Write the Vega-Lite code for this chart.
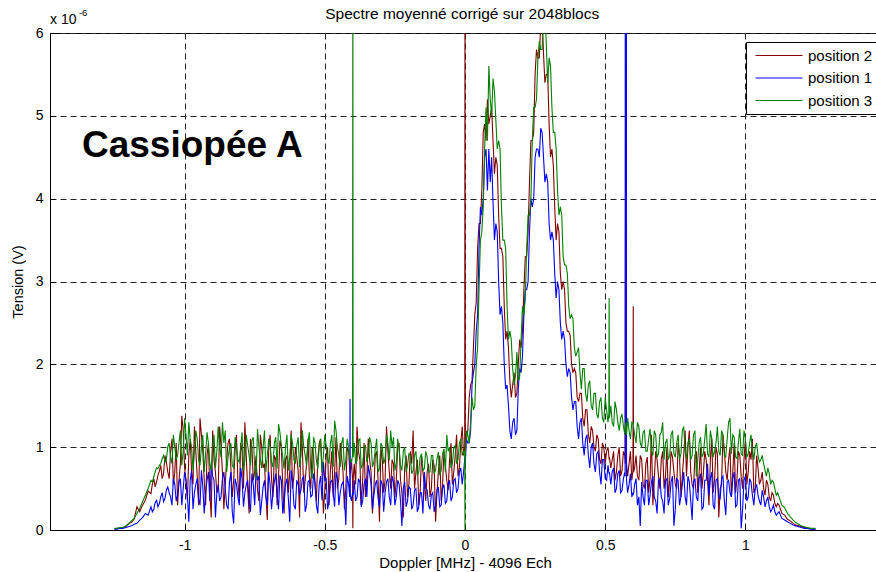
{
  "$schema": "https://vega.github.io/schema/vega-lite/v6.json",
  "width": 830,
  "height": 497,
  "autosize": {"type": "none"},
  "padding": {"left": 50, "top": 33, "right": 0, "bottom": 42},
  "background": "white",
  "config": {
    "font": "Liberation Sans",
    "view": {"stroke": "#000", "strokeWidth": 1},
    "axis": {
      "labelFont": "Liberation Sans",
      "labelFontSize": 14,
      "labelColor": "#000",
      "titleFont": "Liberation Sans",
      "titleFontWeight": "normal",
      "titleColor": "#000",
      "domainColor": "#000",
      "tickColor": "#000",
      "grid": true,
      "gridColor": "#222",
      "gridDash": [6, 4],
      "gridWidth": 1
    }
  },
  "layer": [
    {
      "data": {
        "values": [
          {"x": -1.25, "p3": 0.02, "p2": 0.01, "p1": 0.01},
          {"x": -1.24, "p3": 0.02, "p2": 0.02, "p1": 0.01},
          {"x": -1.23, "p3": 0.03, "p2": 0.02, "p1": 0.02},
          {"x": -1.22, "p3": 0.03, "p2": 0.03, "p1": 0.02},
          {"x": -1.21, "p3": 0.05, "p2": 0.04, "p1": 0.03},
          {"x": -1.2, "p3": 0.07, "p2": 0.08, "p1": 0.04},
          {"x": -1.19, "p3": 0.11, "p2": 0.09, "p1": 0.05},
          {"x": -1.18, "p3": 0.14, "p2": 0.13, "p1": 0.07},
          {"x": -1.17, "p3": 0.2, "p2": 0.28, "p1": 0.08},
          {"x": -1.16, "p3": 0.26, "p2": 0.22, "p1": 0.12},
          {"x": -1.15, "p3": 0.34, "p2": 0.3, "p1": 0.15},
          {"x": -1.14, "p3": 0.42, "p2": 0.36, "p1": 0.2},
          {"x": -1.13, "p3": 0.5, "p2": 0.47, "p1": 0.18},
          {"x": -1.12, "p3": 0.6, "p2": 0.44, "p1": 0.28},
          {"x": -1.115, "p3": 0.58, "p2": 0.55, "p1": 0.22},
          {"x": -1.11, "p3": 0.64, "p2": 0.62, "p1": 0.25},
          {"x": -1.105, "p3": 0.7, "p2": 0.52, "p1": 0.33},
          {"x": -1.1, "p3": 0.75, "p2": 0.58, "p1": 0.36},
          {"x": -1.095, "p3": 0.74, "p2": 0.66, "p1": 0.28},
          {"x": -1.09, "p3": 0.78, "p2": 0.71, "p1": 0.32},
          {"x": -1.085, "p3": 0.8, "p2": 0.78, "p1": 0.4},
          {"x": -1.08, "p3": 0.86, "p2": 0.62, "p1": 0.45},
          {"x": -1.075, "p3": 0.9, "p2": 0.68, "p1": 0.34},
          {"x": -1.07, "p3": 0.82, "p2": 0.9, "p1": 0.38},
          {"x": -1.065, "p3": 0.85, "p2": 0.82, "p1": 0.48},
          {"x": -1.06, "p3": 1.0, "p2": 0.7, "p1": 0.52},
          {"x": -1.055, "p3": 1.05, "p2": 0.62, "p1": 0.45},
          {"x": -1.05, "p3": 0.88, "p2": 0.95, "p1": 0.4},
          {"x": -1.045, "p3": 0.8, "p2": 1.1, "p1": 0.3},
          {"x": -1.04, "p3": 1.15, "p2": 0.55, "p1": 0.62},
          {"x": -1.035, "p3": 1.0, "p2": 0.7, "p1": 0.55},
          {"x": -1.03, "p3": 0.85, "p2": 1.05, "p1": 0.35},
          {"x": -1.025, "p3": 0.9, "p2": 0.3, "p1": 0.42},
          {"x": -1.02, "p3": 1.05, "p2": 0.6, "p1": 0.58},
          {"x": -1.015, "p3": 1.2, "p2": 0.8, "p1": 0.62},
          {"x": -1.01, "p3": 0.78, "p2": 1.38, "p1": 0.3},
          {"x": -1.005, "p3": 0.95, "p2": 1.2, "p1": 0.5},
          {"x": -1.0, "p3": 1.35, "p2": 0.75, "p1": 0.7},
          {"x": -0.995, "p3": 1.15, "p2": 0.6, "p1": 0.6},
          {"x": -0.99, "p3": 0.9, "p2": 0.35, "p1": 0.42},
          {"x": -0.985, "p3": 1.3, "p2": 0.9, "p1": 0.1},
          {"x": -0.98, "p3": 1.1, "p2": 1.1, "p1": 0.6},
          {"x": -0.975, "p3": 1.0, "p2": 0.7, "p1": 0.72},
          {"x": -0.97, "p3": 0.72, "p2": 0.55, "p1": 0.25},
          {"x": -0.965, "p3": 0.95, "p2": 1.25, "p1": 0.45},
          {"x": -0.96, "p3": 1.2, "p2": 0.95, "p1": 0.55},
          {"x": -0.955, "p3": 1.1, "p2": 0.65, "p1": 0.62},
          {"x": -0.95, "p3": 0.85, "p2": 0.3, "p1": 0.38},
          {"x": -0.945, "p3": 0.78, "p2": 1.35, "p1": 0.3},
          {"x": -0.94, "p3": 1.0, "p2": 1.15, "p1": 0.72},
          {"x": -0.935, "p3": 1.15, "p2": 0.95, "p1": 0.52},
          {"x": -0.93, "p3": 0.7, "p2": 0.6, "p1": 0.2},
          {"x": -0.925, "p3": 0.92, "p2": 0.3, "p1": 0.45},
          {"x": -0.92, "p3": 1.18, "p2": 0.9, "p1": 0.6},
          {"x": -0.915, "p3": 1.05, "p2": 1.05, "p1": 0.7},
          {"x": -0.91, "p3": 0.8, "p2": 0.45, "p1": 0.35},
          {"x": -0.905, "p3": 0.72, "p2": 0.15, "p1": 0.8},
          {"x": -0.9, "p3": 1.02, "p2": 1.2, "p1": 0.65},
          {"x": -0.895, "p3": 1.15, "p2": 0.85, "p1": 0.6},
          {"x": -0.89, "p3": 0.75, "p2": 0.7, "p1": 0.15},
          {"x": -0.885, "p3": 0.95, "p2": 0.45, "p1": 0.45},
          {"x": -0.88, "p3": 1.25, "p2": 0.5, "p1": 0.55},
          {"x": -0.875, "p3": 1.0, "p2": 1.25, "p1": 0.35},
          {"x": -0.87, "p3": 0.88, "p2": 1.0, "p1": 0.4},
          {"x": -0.865, "p3": 1.3, "p2": 0.7, "p1": 0.62},
          {"x": -0.86, "p3": 1.05, "p2": 0.25, "p1": 0.7},
          {"x": -0.855, "p3": 1.2, "p2": 0.55, "p1": 0.5},
          {"x": -0.85, "p3": 0.7, "p2": 0.85, "p1": 0.3},
          {"x": -0.845, "p3": 0.88, "p2": 1.05, "p1": 0.25},
          {"x": -0.84, "p3": 0.98, "p2": 1.1, "p1": 0.58},
          {"x": -0.835, "p3": 1.05, "p2": 0.75, "p1": 0.7},
          {"x": -0.83, "p3": 0.78, "p2": 0.4, "p1": 0.22},
          {"x": -0.825, "p3": 0.75, "p2": 0.6, "p1": 0.08},
          {"x": -0.82, "p3": 1.12, "p2": 0.95, "p1": 0.62},
          {"x": -0.815, "p3": 1.0, "p2": 1.15, "p1": 0.55},
          {"x": -0.81, "p3": 0.85, "p2": 0.6, "p1": 0.4},
          {"x": -0.805, "p3": 0.82, "p2": 0.35, "p1": 0.3},
          {"x": -0.8, "p3": 1.0, "p2": 1.05, "p1": 0.75},
          {"x": -0.795, "p3": 1.18, "p2": 0.95, "p1": 0.62},
          {"x": -0.79, "p3": 0.72, "p2": 0.5, "p1": 0.28},
          {"x": -0.785, "p3": 0.85, "p2": 1.3, "p1": 0.45},
          {"x": -0.78, "p3": 1.15, "p2": 0.88, "p1": 0.55},
          {"x": -0.775, "p3": 1.02, "p2": 0.5, "p1": 0.6},
          {"x": -0.77, "p3": 0.9, "p2": 0.2, "p1": 0.35},
          {"x": -0.765, "p3": 0.78, "p2": 1.1, "p1": 0.22},
          {"x": -0.76, "p3": 1.08, "p2": 1.0, "p1": 0.68},
          {"x": -0.755, "p3": 1.12, "p2": 0.6, "p1": 0.55},
          {"x": -0.75, "p3": 0.76, "p2": 0.7, "p1": 0.3},
          {"x": -0.745, "p3": 0.62, "p2": 0.9, "p1": 0.75},
          {"x": -0.74, "p3": 1.22, "p2": 0.48, "p1": 0.6},
          {"x": -0.735, "p3": 1.0, "p2": 0.35, "p1": 0.65},
          {"x": -0.73, "p3": 0.86, "p2": 1.15, "p1": 0.18},
          {"x": -0.725, "p3": 0.75, "p2": 1.0, "p1": 0.35},
          {"x": -0.72, "p3": 1.0, "p2": 0.75, "p1": 0.52},
          {"x": -0.715, "p3": 1.2, "p2": 0.8, "p1": 0.6},
          {"x": -0.71, "p3": 0.7, "p2": 0.42, "p1": 0.4},
          {"x": -0.705, "p3": 0.9, "p2": 0.12, "p1": 0.3},
          {"x": -0.7, "p3": 1.1, "p2": 1.0, "p1": 0.7},
          {"x": -0.695, "p3": 1.0, "p2": 1.15, "p1": 0.55},
          {"x": -0.69, "p3": 0.82, "p2": 0.62, "p1": 0.25},
          {"x": -0.685, "p3": 0.76, "p2": 0.4, "p1": 0.45},
          {"x": -0.68, "p3": 1.05, "p2": 0.9, "p1": 0.58},
          {"x": -0.675, "p3": 1.12, "p2": 0.85, "p1": 0.68},
          {"x": -0.67, "p3": 0.74, "p2": 0.3, "p1": 0.42},
          {"x": -0.665, "p3": 1.28, "p2": 0.65, "p1": 0.25},
          {"x": -0.66, "p3": 1.18, "p2": 1.08, "p1": 0.66},
          {"x": -0.655, "p3": 1.02, "p2": 1.0, "p1": 0.6},
          {"x": -0.65, "p3": 0.88, "p2": 0.55, "p1": 0.2},
          {"x": -0.645, "p3": 0.74, "p2": 0.2, "p1": 0.35},
          {"x": -0.64, "p3": 1.0, "p2": 0.85, "p1": 0.55},
          {"x": -0.635, "p3": 1.15, "p2": 0.9, "p1": 0.62},
          {"x": -0.63, "p3": 0.72, "p2": 0.45, "p1": 0.38},
          {"x": -0.625, "p3": 0.88, "p2": 0.7, "p1": 0.1},
          {"x": -0.62, "p3": 1.15, "p2": 1.2, "p1": 0.72},
          {"x": -0.615, "p3": 1.05, "p2": 0.5, "p1": 0.58},
          {"x": -0.61, "p3": 0.85, "p2": 0.65, "p1": 0.3},
          {"x": -0.605, "p3": 0.8, "p2": 1.0, "p1": 0.25},
          {"x": -0.6, "p3": 1.02, "p2": 0.88, "p1": 0.6},
          {"x": -0.595, "p3": 1.12, "p2": 0.72, "p1": 0.55},
          {"x": -0.59, "p3": 0.76, "p2": 0.15, "p1": 0.42},
          {"x": -0.585, "p3": 0.9, "p2": 1.3, "p1": 0.48},
          {"x": -0.58, "p3": 1.2, "p2": 0.98, "p1": 0.62},
          {"x": -0.575, "p3": 1.0, "p2": 0.45, "p1": 0.65},
          {"x": -0.57, "p3": 0.9, "p2": 0.6, "p1": 0.22},
          {"x": -0.565, "p3": 0.78, "p2": 0.8, "p1": 0.3},
          {"x": -0.56, "p3": 1.06, "p2": 1.1, "p1": 0.58},
          {"x": -0.555, "p3": 1.18, "p2": 0.65, "p1": 0.6},
          {"x": -0.55, "p3": 0.74, "p2": 0.5, "p1": 0.4},
          {"x": -0.545, "p3": 0.62, "p2": 1.0, "p1": 0.42},
          {"x": -0.54, "p3": 1.12, "p2": 0.9, "p1": 0.68},
          {"x": -0.535, "p3": 1.05, "p2": 0.55, "p1": 0.58},
          {"x": -0.53, "p3": 0.84, "p2": 0.35, "p1": 0.3},
          {"x": -0.525, "p3": 0.74, "p2": 0.85, "p1": 0.2},
          {"x": -0.52, "p3": 1.0, "p2": 1.05, "p1": 0.55},
          {"x": -0.515, "p3": 1.1, "p2": 1.1, "p1": 0.65},
          {"x": -0.51, "p3": 0.7, "p2": 0.7, "p1": 0.36},
          {"x": -0.505, "p3": 0.9, "p2": 0.2, "p1": 0.82},
          {"x": -0.5, "p3": 1.15, "p2": 0.48, "p1": 0.6},
          {"x": -0.495, "p3": 1.02, "p2": 0.9, "p1": 0.62},
          {"x": -0.49, "p3": 0.86, "p2": 1.0, "p1": 0.25},
          {"x": -0.485, "p3": 0.8, "p2": 0.3, "p1": 0.35},
          {"x": -0.48, "p3": 1.04, "p2": 0.72, "p1": 0.58},
          {"x": -0.475, "p3": 1.15, "p2": 0.95, "p1": 0.6},
          {"x": -0.47, "p3": 0.76, "p2": 0.4, "p1": 0.45},
          {"x": -0.465, "p3": 1.32, "p2": 0.7, "p1": 0.28},
          {"x": -0.46, "p3": 1.2, "p2": 1.12, "p1": 0.7},
          {"x": -0.455, "p3": 1.0, "p2": 0.5, "p1": 0.62},
          {"x": -0.45, "p3": 0.9, "p2": 0.62, "p1": 0.3},
          {"x": -0.445, "p3": 0.76, "p2": 1.05, "p1": 0.45},
          {"x": -0.44, "p3": 1.05, "p2": 0.88, "p1": 0.55},
          {"x": -0.435, "p3": 1.12, "p2": 0.7, "p1": 0.58},
          {"x": -0.43, "p3": 0.72, "p2": 0.25, "p1": 0.4},
          {"x": -0.425, "p3": 0.85, "p2": 0.5, "p1": 0.06},
          {"x": -0.42, "p3": 1.1, "p2": 1.0, "p1": 0.65},
          {"x": -0.415, "p3": 1.0, "p2": 0.95, "p1": 0.55},
          {"x": -0.411, "p3": 0.88, "p2": 0.72, "p1": 0.4},
          {"x": -0.41, "p3": 0.85, "p2": 0.7, "p1": 1.58},
          {"x": -0.409, "p3": 0.84, "p2": 0.68, "p1": 0.42},
          {"x": -0.405, "p3": 0.82, "p2": 0.85, "p1": 0.35},
          {"x": -0.401, "p3": 0.9, "p2": 0.6, "p1": 0.45},
          {"x": -0.4, "p3": 7, "p2": 0.02, "p1": 0.44},
          {"x": -0.399, "p3": 0.88, "p2": 0.6, "p1": 0.42},
          {"x": -0.395, "p3": 1.05, "p2": 0.8, "p1": 0.6},
          {"x": -0.39, "p3": 0.8, "p2": 0.55, "p1": 0.35},
          {"x": -0.385, "p3": 0.84, "p2": 1.25, "p1": 0.4},
          {"x": -0.38, "p3": 1.08, "p2": 0.95, "p1": 0.62},
          {"x": -0.375, "p3": 1.1, "p2": 0.85, "p1": 0.58},
          {"x": -0.37, "p3": 0.75, "p2": 0.3, "p1": 0.28},
          {"x": -0.365, "p3": 0.78, "p2": 0.6, "p1": 0.35},
          {"x": -0.36, "p3": 1.0, "p2": 1.05, "p1": 0.55},
          {"x": -0.355, "p3": 1.02, "p2": 0.4, "p1": 0.62},
          {"x": -0.35, "p3": 0.82, "p2": 0.65, "p1": 0.4},
          {"x": -0.345, "p3": 0.9, "p2": 1.1, "p1": 0.78},
          {"x": -0.34, "p3": 1.12, "p2": 0.85, "p1": 0.68},
          {"x": -0.335, "p3": 1.05, "p2": 0.7, "p1": 0.55},
          {"x": -0.33, "p3": 0.76, "p2": 0.2, "p1": 0.25},
          {"x": -0.325, "p3": 0.82, "p2": 0.5, "p1": 0.42},
          {"x": -0.32, "p3": 0.98, "p2": 0.9, "p1": 0.55},
          {"x": -0.315, "p3": 1.1, "p2": 0.95, "p1": 0.6},
          {"x": -0.31, "p3": 0.7, "p2": 0.6, "p1": 0.38},
          {"x": -0.305, "p3": 0.74, "p2": 0.1, "p1": 0.28},
          {"x": -0.3, "p3": 1.05, "p2": 1.0, "p1": 0.6},
          {"x": -0.295, "p3": 1.0, "p2": 0.85, "p1": 0.55},
          {"x": -0.29, "p3": 0.8, "p2": 0.45, "p1": 0.22},
          {"x": -0.285, "p3": 0.86, "p2": 0.6, "p1": 0.45},
          {"x": -0.28, "p3": 1.15, "p2": 1.25, "p1": 0.58},
          {"x": -0.275, "p3": 1.05, "p2": 0.95, "p1": 0.62},
          {"x": -0.27, "p3": 0.84, "p2": 0.7, "p1": 0.4},
          {"x": -0.265, "p3": 1.2, "p2": 0.5, "p1": 0.3},
          {"x": -0.26, "p3": 1.0, "p2": 0.85, "p1": 0.65},
          {"x": -0.255, "p3": 1.12, "p2": 0.8, "p1": 0.58},
          {"x": -0.25, "p3": 0.72, "p2": 0.4, "p1": 0.3},
          {"x": -0.245, "p3": 0.8, "p2": 0.6, "p1": 0.4},
          {"x": -0.24, "p3": 1.1, "p2": 1.0, "p1": 0.6},
          {"x": -0.235, "p3": 0.98, "p2": 1.05, "p1": 0.55},
          {"x": -0.23, "p3": 0.78, "p2": 0.6, "p1": 0.35},
          {"x": -0.225, "p3": 0.72, "p2": 0.45, "p1": 0.05},
          {"x": -0.22, "p3": 0.95, "p2": 0.15, "p1": 0.5},
          {"x": -0.215, "p3": 1.0, "p2": 0.75, "p1": 0.58},
          {"x": -0.21, "p3": 0.7, "p2": 0.9, "p1": 0.28},
          {"x": -0.205, "p3": 0.78, "p2": 0.4, "p1": 0.35},
          {"x": -0.2, "p3": 0.92, "p2": 0.55, "p1": 0.52},
          {"x": -0.195, "p3": 0.9, "p2": 0.95, "p1": 0.5},
          {"x": -0.19, "p3": 0.68, "p2": 0.8, "p1": 0.25},
          {"x": -0.185, "p3": 0.72, "p2": 1.2, "p1": 0.3},
          {"x": -0.18, "p3": 0.9, "p2": 0.5, "p1": 0.48},
          {"x": -0.175, "p3": 0.95, "p2": 0.7, "p1": 0.5},
          {"x": -0.17, "p3": 0.66, "p2": 0.85, "p1": 0.22},
          {"x": -0.165, "p3": 0.7, "p2": 0.3, "p1": 0.28},
          {"x": -0.16, "p3": 0.88, "p2": 0.45, "p1": 0.45},
          {"x": -0.155, "p3": 0.92, "p2": 0.9, "p1": 0.45},
          {"x": -0.15, "p3": 0.72, "p2": 0.7, "p1": 0.2},
          {"x": -0.145, "p3": 0.74, "p2": 0.55, "p1": 0.7},
          {"x": -0.14, "p3": 0.95, "p2": 0.35, "p1": 0.5},
          {"x": -0.135, "p3": 0.88, "p2": 0.7, "p1": 0.48},
          {"x": -0.13, "p3": 0.7, "p2": 0.8, "p1": 0.3},
          {"x": -0.125, "p3": 0.7, "p2": 0.4, "p1": 0.25},
          {"x": -0.12, "p3": 0.9, "p2": 0.5, "p1": 0.42},
          {"x": -0.115, "p3": 0.9, "p2": 0.85, "p1": 0.45},
          {"x": -0.11, "p3": 0.68, "p2": 0.78, "p1": 0.22},
          {"x": -0.105, "p3": 0.72, "p2": 0.1, "p1": 0.3},
          {"x": -0.1, "p3": 0.86, "p2": 0.45, "p1": 0.48},
          {"x": -0.095, "p3": 0.94, "p2": 0.7, "p1": 0.52},
          {"x": -0.09, "p3": 0.66, "p2": 0.9, "p1": 0.28},
          {"x": -0.085, "p3": 0.72, "p2": 0.35, "p1": 0.3},
          {"x": -0.08, "p3": 0.92, "p2": 0.55, "p1": 0.5},
          {"x": -0.075, "p3": 0.98, "p2": 0.95, "p1": 0.55},
          {"x": -0.07, "p3": 0.7, "p2": 0.78, "p1": 0.32},
          {"x": -0.065, "p3": 1.15, "p2": 0.6, "p1": 0.35},
          {"x": -0.06, "p3": 0.95, "p2": 0.48, "p1": 0.55},
          {"x": -0.055, "p3": 1.0, "p2": 0.85, "p1": 0.6},
          {"x": -0.05, "p3": 0.75, "p2": 1.05, "p1": 0.35},
          {"x": -0.045, "p3": 0.8, "p2": 0.55, "p1": 0.4},
          {"x": -0.04, "p3": 1.0, "p2": 0.7, "p1": 0.6},
          {"x": -0.035, "p3": 1.02, "p2": 0.9, "p1": 0.62},
          {"x": -0.03, "p3": 0.8, "p2": 1.15, "p1": 0.45},
          {"x": -0.025, "p3": 0.85, "p2": 0.65, "p1": 0.5},
          {"x": -0.02, "p3": 1.05, "p2": 0.75, "p1": 0.7},
          {"x": -0.015, "p3": 1.1, "p2": 1.05, "p1": 0.75},
          {"x": -0.01, "p3": 0.9, "p2": 1.25, "p1": 0.55},
          {"x": -0.005, "p3": 0.95, "p2": 0.9, "p1": 0.7},
          {"x": -0.001, "p3": 0.95, "p2": 1.0, "p1": 0.85},
          {"x": 0.0, "p3": 0.0, "p2": 7, "p1": 0.9},
          {"x": 0.001, "p3": 0.9, "p2": 1.05, "p1": 0.8},
          {"x": 0.005, "p3": 1.2, "p2": 1.1, "p1": 1.1},
          {"x": 0.01, "p3": 1.15, "p2": 1.2, "p1": 1.05},
          {"x": 0.015, "p3": 1.05, "p2": 1.6, "p1": 1.05},
          {"x": 0.02, "p3": 1.3, "p2": 1.75, "p1": 1.2},
          {"x": 0.025, "p3": 1.6, "p2": 1.8, "p1": 1.75},
          {"x": 0.03, "p3": 1.45, "p2": 2.2, "p1": 1.9},
          {"x": 0.035, "p3": 1.5, "p2": 2.6, "p1": 2.0},
          {"x": 0.04, "p3": 2.0, "p2": 2.75, "p1": 2.4},
          {"x": 0.045, "p3": 2.2, "p2": 3.4, "p1": 2.6},
          {"x": 0.05, "p3": 2.9, "p2": 3.7, "p1": 3.4},
          {"x": 0.055, "p3": 3.5, "p2": 3.7, "p1": 3.9},
          {"x": 0.06, "p3": 3.6, "p2": 4.1, "p1": 3.8},
          {"x": 0.065, "p3": 3.9, "p2": 4.8, "p1": 4.0},
          {"x": 0.07, "p3": 4.6, "p2": 4.9, "p1": 4.5},
          {"x": 0.075, "p3": 5.1, "p2": 4.7, "p1": 4.6},
          {"x": 0.08, "p3": 4.7, "p2": 5.2, "p1": 4.1},
          {"x": 0.085, "p3": 5.6, "p2": 4.9, "p1": 4.6},
          {"x": 0.09, "p3": 5.2, "p2": 5.0, "p1": 4.2},
          {"x": 0.095, "p3": 5.0, "p2": 5.1, "p1": 4.5},
          {"x": 0.1, "p3": 5.45, "p2": 4.7, "p1": 3.95},
          {"x": 0.105, "p3": 5.3, "p2": 4.3, "p1": 3.5},
          {"x": 0.11, "p3": 4.95, "p2": 4.5, "p1": 3.7},
          {"x": 0.115, "p3": 4.6, "p2": 4.4, "p1": 3.6},
          {"x": 0.12, "p3": 4.7, "p2": 3.8, "p1": 3.0},
          {"x": 0.125, "p3": 4.6, "p2": 3.4, "p1": 2.6},
          {"x": 0.13, "p3": 3.9, "p2": 3.4, "p1": 2.7},
          {"x": 0.135, "p3": 3.5, "p2": 3.3, "p1": 2.5},
          {"x": 0.14, "p3": 3.5, "p2": 2.7, "p1": 2.0},
          {"x": 0.145, "p3": 3.4, "p2": 2.3, "p1": 1.7},
          {"x": 0.15, "p3": 2.7, "p2": 2.4, "p1": 1.75},
          {"x": 0.155, "p3": 2.3, "p2": 2.2, "p1": 1.5},
          {"x": 0.16, "p3": 2.4, "p2": 1.8, "p1": 1.2},
          {"x": 0.165, "p3": 2.3, "p2": 1.6, "p1": 1.1},
          {"x": 0.17, "p3": 1.95, "p2": 1.75, "p1": 1.3},
          {"x": 0.175, "p3": 1.75, "p2": 1.9, "p1": 1.35},
          {"x": 0.18, "p3": 1.85, "p2": 1.6, "p1": 1.15},
          {"x": 0.185, "p3": 2.15, "p2": 1.65, "p1": 1.2},
          {"x": 0.19, "p3": 1.8, "p2": 2.0, "p1": 1.7},
          {"x": 0.195, "p3": 1.85, "p2": 2.3, "p1": 1.95},
          {"x": 0.2, "p3": 2.3, "p2": 2.2, "p1": 1.9},
          {"x": 0.205, "p3": 2.7, "p2": 2.4, "p1": 2.1},
          {"x": 0.21, "p3": 2.6, "p2": 2.9, "p1": 2.6},
          {"x": 0.215, "p3": 2.8, "p2": 3.3, "p1": 2.9},
          {"x": 0.22, "p3": 3.4, "p2": 3.3, "p1": 2.9},
          {"x": 0.225, "p3": 3.8, "p2": 3.6, "p1": 3.0},
          {"x": 0.23, "p3": 3.8, "p2": 4.2, "p1": 3.6},
          {"x": 0.235, "p3": 4.0, "p2": 4.7, "p1": 4.0},
          {"x": 0.24, "p3": 4.7, "p2": 4.7, "p1": 3.9},
          {"x": 0.245, "p3": 5.1, "p2": 4.8, "p1": 4.0},
          {"x": 0.25, "p3": 5.1, "p2": 5.5, "p1": 4.5},
          {"x": 0.255, "p3": 5.2, "p2": 5.8, "p1": 4.6},
          {"x": 0.26, "p3": 5.7, "p2": 5.7, "p1": 4.6},
          {"x": 0.265, "p3": 5.9, "p2": 5.7, "p1": 4.5},
          {"x": 0.27, "p3": 5.8, "p2": 6.1, "p1": 4.85},
          {"x": 0.275, "p3": 5.8, "p2": 6.2, "p1": 4.8},
          {"x": 0.28, "p3": 6.2, "p2": 5.75, "p1": 4.5},
          {"x": 0.285, "p3": 6.3, "p2": 5.4, "p1": 4.2},
          {"x": 0.29, "p3": 5.85, "p2": 5.5, "p1": 4.3},
          {"x": 0.295, "p3": 5.4, "p2": 5.5, "p1": 4.2},
          {"x": 0.3, "p3": 5.7, "p2": 4.9, "p1": 3.7},
          {"x": 0.305, "p3": 5.6, "p2": 4.5, "p1": 3.5},
          {"x": 0.31, "p3": 5.1, "p2": 4.6, "p1": 3.6},
          {"x": 0.315, "p3": 4.8, "p2": 4.4, "p1": 3.5},
          {"x": 0.32, "p3": 4.8, "p2": 3.9, "p1": 3.1},
          {"x": 0.325, "p3": 4.6, "p2": 3.5, "p1": 2.8},
          {"x": 0.33, "p3": 4.1, "p2": 3.7, "p1": 3.0},
          {"x": 0.335, "p3": 3.8, "p2": 3.6, "p1": 2.9},
          {"x": 0.34, "p3": 3.9, "p2": 3.1, "p1": 2.5},
          {"x": 0.345, "p3": 3.8, "p2": 2.9, "p1": 2.3},
          {"x": 0.35, "p3": 3.3, "p2": 3.0, "p1": 2.4},
          {"x": 0.355, "p3": 3.2, "p2": 2.9, "p1": 2.3},
          {"x": 0.36, "p3": 3.2, "p2": 2.5, "p1": 2.0},
          {"x": 0.365, "p3": 3.1, "p2": 2.4, "p1": 1.85},
          {"x": 0.37, "p3": 2.7, "p2": 2.4, "p1": 1.95},
          {"x": 0.375, "p3": 2.55, "p2": 2.35, "p1": 1.9},
          {"x": 0.38, "p3": 2.6, "p2": 2.0, "p1": 1.6},
          {"x": 0.385, "p3": 2.55, "p2": 1.9, "p1": 1.45},
          {"x": 0.39, "p3": 2.2, "p2": 1.95, "p1": 1.55},
          {"x": 0.395, "p3": 2.1, "p2": 1.9, "p1": 1.55},
          {"x": 0.4, "p3": 2.15, "p2": 1.6, "p1": 1.25},
          {"x": 0.405, "p3": 2.2, "p2": 1.55, "p1": 1.1},
          {"x": 0.41, "p3": 1.9, "p2": 1.65, "p1": 1.3},
          {"x": 0.415, "p3": 1.7, "p2": 1.65, "p1": 1.35},
          {"x": 0.42, "p3": 1.95, "p2": 1.35, "p1": 1.05},
          {"x": 0.425, "p3": 1.95, "p2": 1.25, "p1": 0.9},
          {"x": 0.43, "p3": 1.65, "p2": 1.45, "p1": 1.1},
          {"x": 0.435, "p3": 1.55, "p2": 1.45, "p1": 1.15},
          {"x": 0.44, "p3": 1.75, "p2": 1.15, "p1": 0.9},
          {"x": 0.445, "p3": 1.8, "p2": 1.05, "p1": 0.75},
          {"x": 0.45, "p3": 1.5, "p2": 1.25, "p1": 1.0},
          {"x": 0.455, "p3": 1.45, "p2": 1.2, "p1": 1.05},
          {"x": 0.46, "p3": 1.65, "p2": 1.0, "p1": 0.8},
          {"x": 0.465, "p3": 1.65, "p2": 0.95, "p1": 0.7},
          {"x": 0.47, "p3": 1.4, "p2": 1.15, "p1": 0.92},
          {"x": 0.475, "p3": 1.35, "p2": 1.1, "p1": 0.95},
          {"x": 0.48, "p3": 1.55, "p2": 0.85, "p1": 0.7},
          {"x": 0.485, "p3": 1.6, "p2": 0.8, "p1": 0.55},
          {"x": 0.49, "p3": 1.35, "p2": 1.05, "p1": 0.85},
          {"x": 0.495, "p3": 1.3, "p2": 1.0, "p1": 0.85},
          {"x": 0.5, "p3": 1.6, "p2": 0.8, "p1": 0.62},
          {"x": 0.505, "p3": 1.45, "p2": 0.95, "p1": 0.6},
          {"x": 0.51, "p3": 1.3, "p2": 1.0, "p1": 0.78},
          {"x": 0.513, "p3": 1.4, "p2": 0.9, "p1": 0.7},
          {"x": 0.514, "p3": 2.8, "p2": 0.85, "p1": 0.68},
          {"x": 0.515, "p3": 1.35, "p2": 0.88, "p1": 0.7},
          {"x": 0.52, "p3": 1.5, "p2": 0.75, "p1": 0.55},
          {"x": 0.525, "p3": 1.3, "p2": 0.85, "p1": 0.7},
          {"x": 0.53, "p3": 1.25, "p2": 0.95, "p1": 0.75},
          {"x": 0.535, "p3": 1.55, "p2": 0.6, "p1": 0.45},
          {"x": 0.54, "p3": 1.45, "p2": 0.7, "p1": 0.5},
          {"x": 0.545, "p3": 1.3, "p2": 0.9, "p1": 0.68},
          {"x": 0.55, "p3": 1.2, "p2": 1.0, "p1": 0.72},
          {"x": 0.555, "p3": 1.35, "p2": 0.65, "p1": 0.45},
          {"x": 0.56, "p3": 1.4, "p2": 0.72, "p1": 0.48},
          {"x": 0.565, "p3": 1.25, "p2": 0.95, "p1": 0.62},
          {"x": 0.57, "p3": 1.15, "p2": 0.9, "p1": 0.7},
          {"x": 0.571, "p3": 1.2, "p2": 0.85, "p1": 0.65},
          {"x": 0.5715, "p3": 1.25, "p2": 0.8, "p1": 7},
          {"x": 0.5735, "p3": 1.3, "p2": 7, "p1": 7},
          {"x": 0.5755, "p3": 1.2, "p2": 0.82, "p1": 7},
          {"x": 0.576, "p3": 1.15, "p2": 0.8, "p1": 0.6},
          {"x": 0.58, "p3": 1.35, "p2": 0.65, "p1": 0.45},
          {"x": 0.585, "p3": 1.2, "p2": 0.8, "p1": 0.55},
          {"x": 0.59, "p3": 1.1, "p2": 0.95, "p1": 0.68},
          {"x": 0.595, "p3": 1.3, "p2": 0.6, "p1": 0.4},
          {"x": 0.599, "p3": 1.28, "p2": 0.72, "p1": 0.45},
          {"x": 0.6, "p3": 1.3, "p2": 2.7, "p1": 0.42},
          {"x": 0.601, "p3": 1.25, "p2": 0.7, "p1": 0.44},
          {"x": 0.605, "p3": 1.15, "p2": 0.75, "p1": 0.55},
          {"x": 0.61, "p3": 1.05, "p2": 0.9, "p1": 0.62},
          {"x": 0.615, "p3": 1.3, "p2": 0.65, "p1": 0.3},
          {"x": 0.62, "p3": 1.25, "p2": 0.6, "p1": 0.4},
          {"x": 0.625, "p3": 1.05, "p2": 0.9, "p1": 0.05},
          {"x": 0.63, "p3": 1.0, "p2": 0.85, "p1": 0.58},
          {"x": 0.635, "p3": 1.18, "p2": 0.55, "p1": 0.4},
          {"x": 0.64, "p3": 1.2, "p2": 0.5, "p1": 0.3},
          {"x": 0.645, "p3": 0.95, "p2": 0.8, "p1": 0.6},
          {"x": 0.65, "p3": 0.95, "p2": 0.88, "p1": 0.6},
          {"x": 0.655, "p3": 1.1, "p2": 0.45, "p1": 0.3},
          {"x": 0.66, "p3": 1.22, "p2": 0.62, "p1": 0.42},
          {"x": 0.665, "p3": 0.95, "p2": 1.15, "p1": 0.58},
          {"x": 0.67, "p3": 0.9, "p2": 0.3, "p1": 0.65},
          {"x": 0.675, "p3": 1.2, "p2": 0.6, "p1": 0.4},
          {"x": 0.68, "p3": 1.15, "p2": 0.95, "p1": 0.35},
          {"x": 0.685, "p3": 0.88, "p2": 0.85, "p1": 0.2},
          {"x": 0.69, "p3": 0.92, "p2": 0.65, "p1": 0.6},
          {"x": 0.695, "p3": 1.15, "p2": 0.5, "p1": 0.62},
          {"x": 0.7, "p3": 1.18, "p2": 0.85, "p1": 0.4},
          {"x": 0.705, "p3": 1.3, "p2": 0.95, "p1": 0.35},
          {"x": 0.71, "p3": 0.85, "p2": 0.5, "p1": 0.2},
          {"x": 0.715, "p3": 1.05, "p2": 0.65, "p1": 0.6},
          {"x": 0.72, "p3": 1.1, "p2": 1.0, "p1": 0.62},
          {"x": 0.725, "p3": 0.85, "p2": 0.4, "p1": 0.3},
          {"x": 0.73, "p3": 0.9, "p2": 0.6, "p1": 0.38},
          {"x": 0.735, "p3": 1.15, "p2": 0.95, "p1": 0.58},
          {"x": 0.74, "p3": 1.2, "p2": 0.88, "p1": 0.65},
          {"x": 0.745, "p3": 0.92, "p2": 0.7, "p1": 0.05},
          {"x": 0.75, "p3": 0.88, "p2": 0.55, "p1": 0.25},
          {"x": 0.755, "p3": 1.05, "p2": 0.5, "p1": 0.62},
          {"x": 0.76, "p3": 1.15, "p2": 1.05, "p1": 0.6},
          {"x": 0.765, "p3": 0.85, "p2": 0.9, "p1": 0.3},
          {"x": 0.77, "p3": 0.92, "p2": 0.4, "p1": 0.4},
          {"x": 0.775, "p3": 1.2, "p2": 0.65, "p1": 0.55},
          {"x": 0.78, "p3": 1.25, "p2": 0.9, "p1": 0.7},
          {"x": 0.785, "p3": 0.95, "p2": 1.2, "p1": 0.4},
          {"x": 0.79, "p3": 0.86, "p2": 0.65, "p1": 0.3},
          {"x": 0.795, "p3": 1.05, "p2": 1.0, "p1": 0.65},
          {"x": 0.8, "p3": 1.1, "p2": 1.2, "p1": 0.58},
          {"x": 0.805, "p3": 0.85, "p2": 0.7, "p1": 0.35},
          {"x": 0.81, "p3": 0.9, "p2": 0.55, "p1": 0.12},
          {"x": 0.815, "p3": 1.15, "p2": 0.5, "p1": 0.58},
          {"x": 0.82, "p3": 1.2, "p2": 0.9, "p1": 0.62},
          {"x": 0.825, "p3": 0.65, "p2": 0.95, "p1": 0.4},
          {"x": 0.83, "p3": 0.85, "p2": 0.45, "p1": 0.35},
          {"x": 0.835, "p3": 1.05, "p2": 0.7, "p1": 0.62},
          {"x": 0.84, "p3": 1.12, "p2": 1.0, "p1": 0.68},
          {"x": 0.845, "p3": 0.88, "p2": 0.5, "p1": 0.25},
          {"x": 0.85, "p3": 0.92, "p2": 0.68, "p1": 0.28},
          {"x": 0.855, "p3": 1.1, "p2": 0.95, "p1": 0.6},
          {"x": 0.86, "p3": 1.28, "p2": 0.85, "p1": 0.6},
          {"x": 0.865, "p3": 0.92, "p2": 0.6, "p1": 0.8},
          {"x": 0.87, "p3": 0.88, "p2": 0.3, "p1": 0.42},
          {"x": 0.875, "p3": 1.2, "p2": 0.85, "p1": 0.62},
          {"x": 0.88, "p3": 1.1, "p2": 1.1, "p1": 0.7},
          {"x": 0.885, "p3": 0.88, "p2": 0.45, "p1": 0.3},
          {"x": 0.89, "p3": 0.95, "p2": 0.6, "p1": 0.25},
          {"x": 0.895, "p3": 1.05, "p2": 1.0, "p1": 0.6},
          {"x": 0.9, "p3": 1.25, "p2": 0.92, "p1": 0.62},
          {"x": 0.905, "p3": 0.95, "p2": 0.15, "p1": 0.4},
          {"x": 0.91, "p3": 0.9, "p2": 0.5, "p1": 0.38},
          {"x": 0.915, "p3": 1.2, "p2": 0.55, "p1": 0.62},
          {"x": 0.92, "p3": 1.15, "p2": 1.15, "p1": 0.65},
          {"x": 0.925, "p3": 0.9, "p2": 0.95, "p1": 0.35},
          {"x": 0.93, "p3": 0.88, "p2": 0.7, "p1": 0.18},
          {"x": 0.935, "p3": 1.1, "p2": 0.6, "p1": 0.58},
          {"x": 0.94, "p3": 1.3, "p2": 0.85, "p1": 0.6},
          {"x": 0.945, "p3": 1.35, "p2": 1.0, "p1": 0.45},
          {"x": 0.95, "p3": 0.92, "p2": 0.4, "p1": 0.4},
          {"x": 0.955, "p3": 1.15, "p2": 0.7, "p1": 0.62},
          {"x": 0.96, "p3": 1.12, "p2": 1.05, "p1": 0.7},
          {"x": 0.965, "p3": 0.88, "p2": 0.45, "p1": 0.28},
          {"x": 0.97, "p3": 0.86, "p2": 0.62, "p1": 0.3},
          {"x": 0.975, "p3": 1.05, "p2": 0.95, "p1": 0.6},
          {"x": 0.98, "p3": 1.22, "p2": 0.9, "p1": 0.62},
          {"x": 0.985, "p3": 0.92, "p2": 0.65, "p1": 0.02},
          {"x": 0.99, "p3": 0.9, "p2": 0.5, "p1": 0.25},
          {"x": 0.995, "p3": 1.2, "p2": 0.85, "p1": 0.6},
          {"x": 1.0, "p3": 1.1, "p2": 1.1, "p1": 0.65},
          {"x": 1.005, "p3": 0.88, "p2": 0.55, "p1": 0.35},
          {"x": 1.01, "p3": 0.92, "p2": 0.7, "p1": 0.4},
          {"x": 1.015, "p3": 1.05, "p2": 0.95, "p1": 0.62},
          {"x": 1.02, "p3": 1.15, "p2": 0.85, "p1": 0.58},
          {"x": 1.025, "p3": 0.95, "p2": 1.1, "p1": 0.42},
          {"x": 1.03, "p3": 0.85, "p2": 0.45, "p1": 0.3},
          {"x": 1.035, "p3": 1.0, "p2": 0.5, "p1": 0.5},
          {"x": 1.04, "p3": 1.05, "p2": 0.9, "p1": 0.55},
          {"x": 1.045, "p3": 0.9, "p2": 0.75, "p1": 0.42},
          {"x": 1.05, "p3": 0.82, "p2": 0.55, "p1": 0.35},
          {"x": 1.055, "p3": 0.85, "p2": 0.6, "p1": 0.3},
          {"x": 1.06, "p3": 0.9, "p2": 0.7, "p1": 0.48},
          {"x": 1.065, "p3": 0.8, "p2": 0.5, "p1": 0.4},
          {"x": 1.07, "p3": 0.72, "p2": 0.42, "p1": 0.28},
          {"x": 1.075, "p3": 0.65, "p2": 0.6, "p1": 0.35},
          {"x": 1.08, "p3": 0.75, "p2": 0.55, "p1": 0.4},
          {"x": 1.085, "p3": 0.68, "p2": 0.4, "p1": 0.28},
          {"x": 1.09, "p3": 0.55, "p2": 0.35, "p1": 0.22},
          {"x": 1.095, "p3": 0.6, "p2": 0.45, "p1": 0.25},
          {"x": 1.1, "p3": 0.58, "p2": 0.42, "p1": 0.3},
          {"x": 1.105, "p3": 0.5, "p2": 0.32, "p1": 0.22},
          {"x": 1.11, "p3": 0.42, "p2": 0.28, "p1": 0.18},
          {"x": 1.115, "p3": 0.45, "p2": 0.32, "p1": 0.2},
          {"x": 1.12, "p3": 0.4, "p2": 0.3, "p1": 0.22},
          {"x": 1.13, "p3": 0.3, "p2": 0.2, "p1": 0.14},
          {"x": 1.14, "p3": 0.27, "p2": 0.18, "p1": 0.12},
          {"x": 1.15, "p3": 0.2, "p2": 0.13, "p1": 0.1},
          {"x": 1.16, "p3": 0.16, "p2": 0.11, "p1": 0.08},
          {"x": 1.17, "p3": 0.12, "p2": 0.08, "p1": 0.06},
          {"x": 1.18, "p3": 0.09, "p2": 0.06, "p1": 0.05},
          {"x": 1.19, "p3": 0.07, "p2": 0.05, "p1": 0.04},
          {"x": 1.2, "p3": 0.05, "p2": 0.04, "p1": 0.03},
          {"x": 1.21, "p3": 0.04, "p2": 0.03, "p1": 0.02},
          {"x": 1.22, "p3": 0.03, "p2": 0.02, "p1": 0.02},
          {"x": 1.23, "p3": 0.02, "p2": 0.02, "p1": 0.01},
          {"x": 1.24, "p3": 0.02, "p2": 0.01, "p1": 0.01},
          {"x": 1.25, "p3": 0.02, "p2": 0.01, "p1": 0.01}
        ]
      },
      "transform": [{"fold": ["p2", "p1", "p3"], "as": ["serie", "v"]}],
      "mark": {"type": "line", "strokeWidth": 1.1, "clip": true},
      "encoding": {
        "x": {
          "field": "x",
          "type": "quantitative",
          "scale": {"domain": [-1.48, 1.48], "nice": false, "zero": false},
          "axis": {
            "values": [-1, -0.5, 0, 0.5, 1],
            "labelExpr": "'' + datum.value",
            "title": "Doppler [MHz] - 4096 Ech",
            "titleFontSize": 15,
            "titlePadding": 3,
            "tickSize": -5,
            "labelPadding": 13
          }
        },
        "y": {
          "field": "v",
          "type": "quantitative",
          "scale": {"domain": [0, 6], "nice": false, "zero": true},
          "axis": {
            "values": [0, 1, 2, 3, 4, 5, 6],
            "labelExpr": "'' + datum.value",
            "title": "Tension (V)",
            "titleFontSize": 14.5,
            "titlePadding": 10,
            "tickSize": -5,
            "labelPadding": 12
          }
        },
        "color": {
          "field": "serie",
          "type": "nominal",
          "scale": {"domain": ["p2", "p1", "p3"], "range": ["#800000", "#0000ff", "#008000"]},
          "legend": {
            "title": null,
            "orient": "none",
            "legendX": 696,
            "legendY": 9,
            "labelExpr": "'position ' + slice(datum.label, 1)",
            "labelFont": "Liberation Sans",
            "labelFontSize": 15,
            "labelColor": "#000",
            "symbolType": "M-0.5,0H5.375",
            "symbolSize": 256,
            "symbolStrokeWidth": 1,
            "labelOffset": 40,
            "strokeColor": "#000",
            "fillColor": "#fff",
            "padding": 5,
            "rowPadding": 5.5
          }
        }
      }
    },
    {
      "data": {"values": [{"x": -1.366, "y": 4.5, "t": "Cassiopée A"}]},
      "mark": {"type": "text", "align": "left", "baseline": "alphabetic", "font": "Liberation Sans", "fontSize": 37, "fontWeight": "bold", "color": "#000"},
      "encoding": {
        "x": {"field": "x", "type": "quantitative"},
        "y": {"field": "y", "type": "quantitative"},
        "text": {"field": "t"}
      }
    },
    {
      "data": {"values": [{"x": -0.01, "y": 6.17, "t": "Spectre moyenné corrigé sur 2048blocs"}]},
      "mark": {"type": "text", "align": "center", "baseline": "alphabetic", "font": "Liberation Sans", "fontSize": 15.5, "color": "#000", "clip": false},
      "encoding": {
        "x": {"field": "x", "type": "quantitative"},
        "y": {"field": "y", "type": "quantitative"},
        "text": {"field": "t"}
      }
    },
    {
      "data": {"values": [{"x": -1.48, "y": 6.109, "t": "x 10"}]},
      "mark": {"type": "text", "align": "left", "baseline": "alphabetic", "font": "Liberation Sans", "fontSize": 14, "color": "#000", "clip": false},
      "encoding": {
        "x": {"field": "x", "type": "quantitative"},
        "y": {"field": "y", "type": "quantitative"},
        "text": {"field": "t"}
      }
    },
    {
      "data": {"values": [{"x": -1.377, "y": 6.205, "t": "-6"}]},
      "mark": {"type": "text", "align": "left", "baseline": "alphabetic", "font": "Liberation Sans", "fontSize": 9.5, "color": "#000", "clip": false},
      "encoding": {
        "x": {"field": "x", "type": "quantitative"},
        "y": {"field": "y", "type": "quantitative"},
        "text": {"field": "t"}
      }
    }
  ]
}
